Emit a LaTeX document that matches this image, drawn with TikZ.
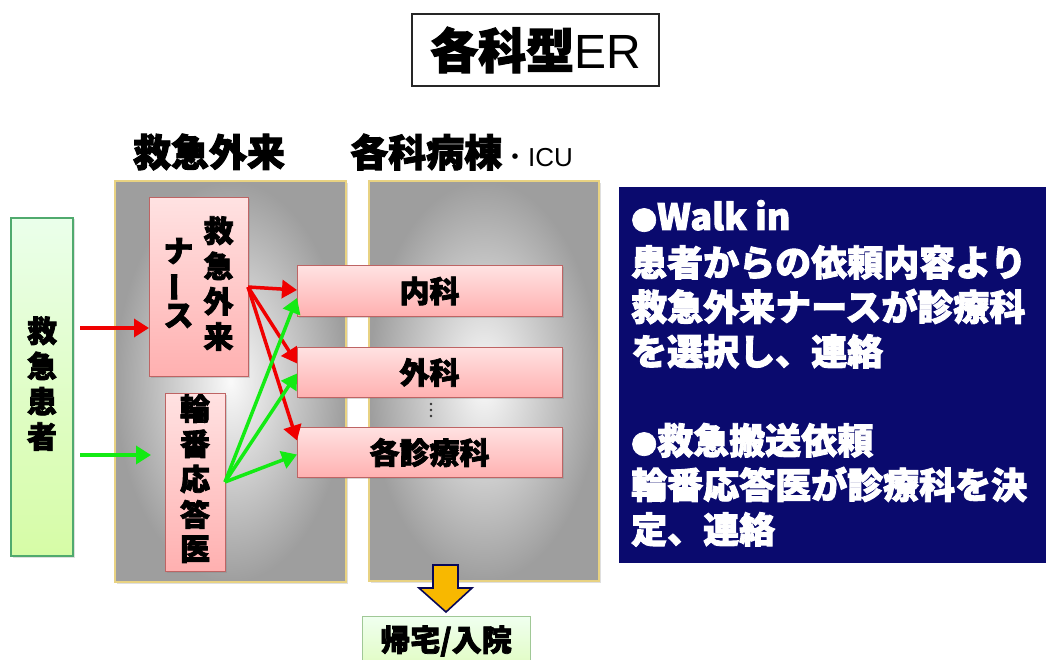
\documentclass[tikz,border=0pt]{standalone}
\usepackage{fontspec}
\setmainfont{Noto Sans CJK JP}[BoldFeatures={FakeBold=2.5}]
\newfontfamily\lat{Liberation Sans}
\usetikzlibrary{arrows.meta,calc,shadows}
\definecolor{navybox}{RGB}{10,10,110}
\definecolor{panelborder}{RGB}{232,210,130}
\definecolor{pinkborder}{RGB}{190,100,100}
\definecolor{pinktop}{RGB}{255,226,226}
\definecolor{pinkbot}{RGB}{255,176,176}
\definecolor{greenborder}{RGB}{80,170,110}
\definecolor{arrowyellow}{RGB}{248,184,0}
\definecolor{arrowred}{RGB}{240,0,0}
\definecolor{arrowgreen}{RGB}{20,235,20}
\definecolor{greenbot}{RGB}{214,252,166}
\definecolor{homebot}{RGB}{225,252,195}
\definecolor{homeborder}{RGB}{160,200,150}
\tikzset{
  panel/.style={shade, inner color=white!96!gray, outer color=gray!76, draw=panelborder, line width=1.5pt,
    inner sep=0pt, outer sep=0pt, drop shadow={opacity=0.25, shadow xshift=2pt, shadow yshift=-2pt}},
  pinkbox/.style={top color=pinktop, bottom color=pinkbot, draw=pinkborder, line width=1pt,
    inner sep=0pt, outer sep=0pt, font=\bfseries\fontsize{30}{32}\selectfont,
    drop shadow={opacity=0.3, shadow xshift=1.5pt, shadow yshift=-1.5pt}},
  greenbox/.style={top color=green!8!white, bottom color=greenbot, draw=greenborder, line width=1.2pt,
    inner sep=0pt, outer sep=0pt, font=\bfseries\fontsize{30}{32}\selectfont,
    drop shadow={opacity=0.25, shadow xshift=1.5pt, shadow yshift=-1.5pt}},
  redarr/.style={draw=arrowred, line width=3.5pt, -{Triangle[length=15pt,width=18pt]}},
  greenarr/.style={draw=arrowgreen, line width=3.5pt, -{Triangle[length=15pt,width=18pt]}},
  bluetext/.style={anchor=base west, inner sep=0pt, text=white, font=\bfseries\fontsize{36}{36}\selectfont},
}
\begin{document}
\begin{tikzpicture}[x=1pt,y=-1pt]
\useasboundingbox (0,0) rectangle (1049,660);
\fill[white] (0,0) rectangle (1049,660);

% title
\node[draw=black!85, line width=1.2pt, fill=white, minimum width=247, minimum height=72, inner sep=0pt] (title) at (535.5,50)
  {\bfseries\fontsize{48}{48}\selectfont 各科型{\lat\mdseries ER}};

% headers
\node[inner sep=0pt] (h1) at (209,152) {\bfseries\fontsize{38}{38}\selectfont 救急外来};
\node[anchor=west, inner sep=0pt] (h2) at (350,152)
  {{\bfseries\fontsize{38}{38}\selectfont 各科病棟}{\fontsize{26}{26}\selectfont ・{\lat ICU}}};

% panels
\node[panel, minimum width=231, minimum height=401] (er) at (230.5,381.5) {};
\node[panel, minimum width=230, minimum height=400] (ward) at (484,381) {};

% patient
\node[greenbox, minimum width=62, minimum height=338] (patient) at (42,387)
  {\begin{tabular}[c]{@{}c@{}}救\\急\\患\\者\end{tabular}};

% nurse and doctor
\node[pinkbox, minimum width=99, minimum height=178] (nurse) at (198.5,287)
  {\begin{tabular}[c]{@{}c@{}}ナ\\\rotatebox[origin=c]{90}{ー}\\ス\end{tabular}\hspace{10pt}%
   \begin{tabular}[c]{@{}c@{}}救\\急\\外\\来\end{tabular}};
\node[pinkbox, minimum width=60, minimum height=178] (rinban) at (195,482)
  {\begin{tabular}[c]{@{}c@{}}輪\\番\\応\\答\\医\end{tabular}};

% departments
\node[pinkbox, minimum width=265, minimum height=50] (naika) at (429.5,291) {内科};
\node[pinkbox, minimum width=265, minimum height=50] (gaika) at (429.5,372.5) {外科};
\node[pinkbox, minimum width=265, minimum height=50] (kaku) at (429.5,452.5) {各診療科};
\foreach \yy in {404,410,416} \fill[black!80] (431,\yy) circle (1.4pt);

% input arrows
\coordinate (rs) at (80,328);
\coordinate (gs) at (80,455);
\draw[redarr] (rs) -- (nurse.west |- rs);
\draw[greenarr, shorten >=14pt] (gs) -- (rinban.west |- gs);

% nurse arrows
\draw[redarr] (nurse.east) -- ($(naika.west)+(0,-1)$);
\draw[redarr] (nurse.east) -- ($(gaika.west)+(0,-9)$);
\draw[redarr] (nurse.east) -- ($(kaku.west)+(0,-12)$);
% doctor arrows
\draw[greenarr] (rinban.east) -- ($(naika.west)+(0,7)$);
\draw[greenarr] (rinban.east) -- ($(gaika.west)+(0,1)$);
\draw[greenarr] (rinban.east) -- ($(kaku.west)+(0,2)$);

% yellow arrow
\filldraw[fill=arrowyellow, draw=navybox!80!black, line width=1.6pt, line join=miter]
  (433,565) -- (458,565) -- (458,588) -- (472,588) -- (446,612) -- (419,588) -- (433,588) -- cycle;

% home box
\node[draw=homeborder, line width=1pt, top color=green!6!white,
  bottom color=homebot, minimum width=168, minimum height=50, inner sep=0pt,
  font=\bfseries\fontsize{30}{32}\selectfont] (home) at (446,641) {帰宅/入院};

% info box
\node[fill=navybox, minimum width=427, minimum height=376, inner sep=0pt] (info) at (832.5,375) {};
\node[bluetext] (t1) at (631,230) {{\fontsize{26}{26}\selectfont ●}Walk in};
\node[bluetext] (t2) at (631,276) {患者からの依頼内容より};
\node[bluetext] (t3) at (631,320.5) {救急外来ナースが診療科};
\node[bluetext] (t4) at (631,365) {を選択し、連絡};
\node[bluetext] (t5) at (631,454) {{\fontsize{26}{26}\selectfont ●}救急搬送依頼};
\node[bluetext] (t6) at (631,498.5) {輪番応答医が診療科を決};
\node[bluetext] (t7) at (631,543) {定、連絡};
\end{tikzpicture}
\end{document}
